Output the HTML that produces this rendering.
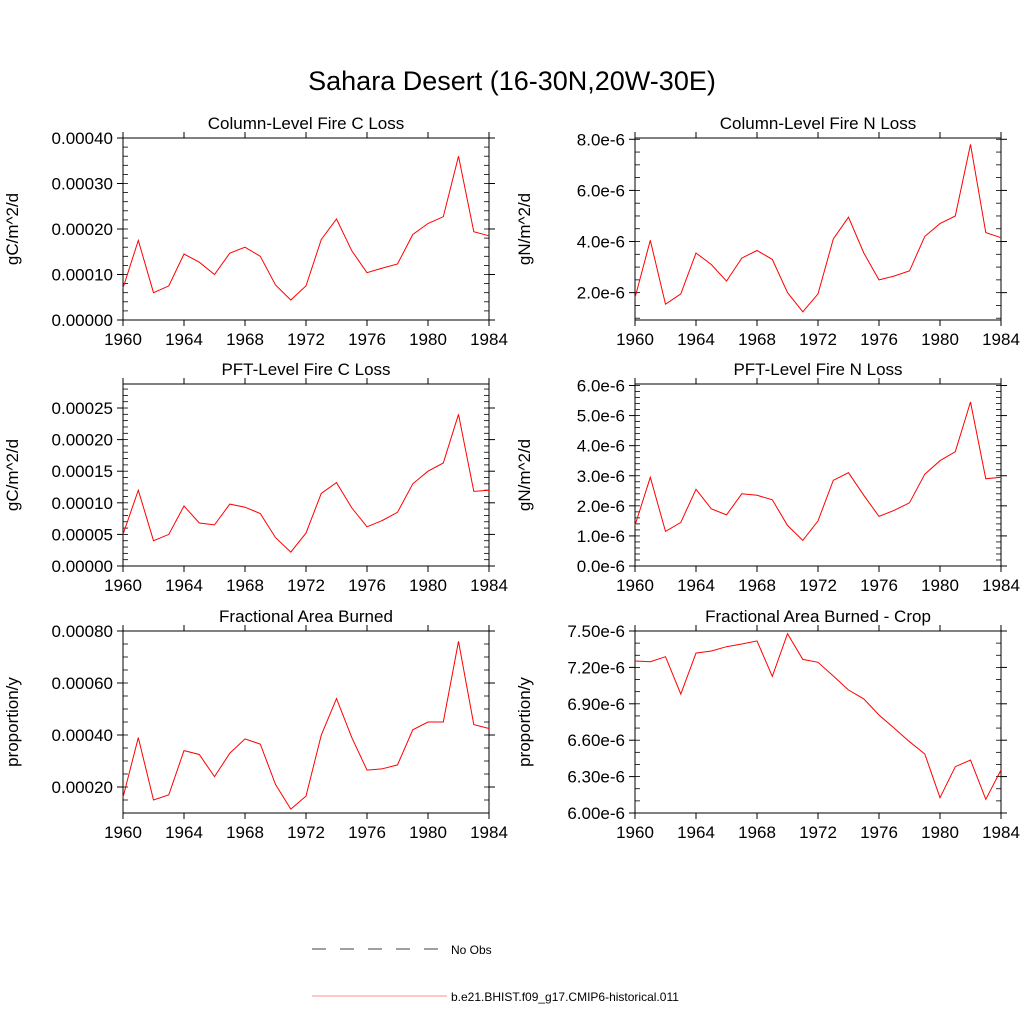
<!DOCTYPE html>
<html><head><meta charset="utf-8"><style>
body{margin:0;background:#fff;}
svg text{font-family:"Liberation Sans",sans-serif;fill:#000;}
</style></head><body>
<svg id="chart" width="1024" height="1024" viewBox="0 0 1024 1024" xmlns="http://www.w3.org/2000/svg">
<text x="512" y="90" font-size="27" text-anchor="middle">Sahara Desert (16-30N,20W-30E)</text>
<g id="panels"></g>
<g>
<line x1="312" y1="949" x2="447" y2="949" stroke="#000" stroke-width="0.8" stroke-dasharray="14,14"/>
<text x="451" y="954" font-size="12">No Obs</text>
<line x1="312" y1="996" x2="447" y2="996" stroke="#f66" stroke-width="0.8"/>
<text x="451" y="1001" font-size="12">b.e21.BHIST.f09_g17.CMIP6-historical.011</text>
</g>
</svg>
<script>
const years=[1960,1961,1962,1963,1964,1965,1966,1967,1968,1969,1970,1971,1972,1973,1974,1975,1976,1977,1978,1979,1980,1981,1982,1983,1984];
const xTicks=[1960,1964,1968,1972,1976,1980,1984];
const colC=[0.00007,0.000175,0.00006,0.000075,0.000145,0.000127,0.0001,0.000147,0.00016,0.00014,0.000077,0.000044,0.000075,0.000177,0.000222,0.000152,0.000104,0.000114,0.000123,0.000188,0.000212,0.000227,0.00036,0.000194,0.000185];
const colN=[1.8,4.05,1.55,1.95,3.55,3.1,2.45,3.35,3.65,3.3,2.0,1.25,1.95,4.1,4.95,3.55,2.5,2.65,2.85,4.2,4.7,5.0,7.8,4.35,4.15];
const pftC=[0.00005,0.00012,0.00004,0.00005,0.000095,0.000068,0.000065,0.000098,0.000093,0.000083,0.000045,0.000022,0.000052,0.000115,0.000132,0.000092,0.000062,0.000072,0.000085,0.00013,0.00015,0.000163,0.00024,0.000118,0.00012];
const pftN=[1.35,2.95,1.15,1.45,2.55,1.9,1.7,2.4,2.35,2.2,1.35,0.85,1.5,2.85,3.1,2.35,1.65,1.85,2.1,3.05,3.5,3.8,5.45,2.9,2.95];
const fab=[0.00016,0.00039,0.00015,0.00017,0.00034,0.000325,0.00024,0.00033,0.000385,0.000365,0.00021,0.000115,0.000165,0.0004,0.00054,0.00039,0.000265,0.00027,0.000285,0.00042,0.00045,0.00045,0.00076,0.00044,0.000425];
const fabCrop=[7.253,7.247,7.288,6.98,7.318,7.335,7.371,7.393,7.418,7.126,7.478,7.266,7.242,7.129,7.014,6.94,6.808,6.698,6.588,6.486,6.126,6.382,6.437,6.113,6.354];
const ticksColC=[0,0.0001,0.0002,0.0003,0.0004];
const labelsColC=["0.00000","0.00010","0.00020","0.00030","0.00040"];
const ticksColN=[2,4,6,8];
const labelsColN=["2.0e-6","4.0e-6","6.0e-6","8.0e-6"];
const ticksPftC=[0,0.00005,0.0001,0.00015,0.0002,0.00025];
const labelsPftC=["0.00000","0.00005","0.00010","0.00015","0.00020","0.00025"];
const ticksPftN=[0,1,2,3,4,5,6];
const labelsPftN=["0.0e-6","1.0e-6","2.0e-6","3.0e-6","4.0e-6","5.0e-6","6.0e-6"];
const ticksFab=[0.0002,0.0004,0.0006,0.0008];
const labelsFab=["0.00020","0.00040","0.00060","0.00080"];
const ticksCrop=[6.0,6.3,6.6,6.9,7.2,7.5];
const labelsCrop=["6.00e-6","6.30e-6","6.60e-6","6.90e-6","7.20e-6","7.50e-6"];

const panels=[
 {name:"column-fire-c-loss",title:"Column-Level Fire C Loss",yt:"gC/m^2/d",x:123,y:138,data:colC,ymin:0,ymax:0.0004,ticks:ticksColC,labels:labelsColC,minor:0.00002},
 {name:"column-fire-n-loss",title:"Column-Level Fire N Loss",yt:"gN/m^2/d",x:635,y:138,data:colN,ymin:0.93,ymax:8.05,ticks:ticksColN,labels:labelsColN,minor:0.5},
 {name:"pft-fire-c-loss",title:"PFT-Level Fire C Loss",yt:"gC/m^2/d",x:123,y:384,data:pftC,ymin:0,ymax:0.000288,ticks:ticksPftC,labels:labelsPftC,minor:0.00001},
 {name:"pft-fire-n-loss",title:"PFT-Level Fire N Loss",yt:"gN/m^2/d",x:635,y:384,data:pftN,ymin:0,ymax:6.05,ticks:ticksPftN,labels:labelsPftN,minor:0.2},
 {name:"fractional-area-burned",title:"Fractional Area Burned",yt:"proportion/y",x:123,y:631,data:fab,ymin:0.0001,ymax:0.0008,ticks:ticksFab,labels:labelsFab,minor:0.00005},
 {name:"fractional-area-burned-crop",title:"Fractional Area Burned - Crop",yt:"proportion/y",x:635,y:631,data:fabCrop,ymin:6.0,ymax:7.5,ticks:ticksCrop,labels:labelsCrop,minor:0.1}
];
const W=366,H=182,NS="http://www.w3.org/2000/svg";
const root=document.getElementById('panels');
function mk(tag,attrs,parent){const e=document.createElementNS(NS,tag);for(const k in attrs)e.setAttribute(k,attrs[k]);parent.appendChild(e);return e;}
panels.forEach(p=>{
 const g=mk('g',{},root);
 
 
 const xs=v=>p.x+(v-1960)/24*W;
 const ys=v=>p.y+H-(v-p.ymin)/(p.ymax-p.ymin)*H;
 const fr=mk('rect',{x:p.x,y:p.y,width:W,height:H,fill:'none',stroke:'#000','stroke-width':1},g);
 
 
 const t=mk('text',{x:p.x+W/2,y:p.y-9,'font-size':17,'text-anchor':'middle'},g);t.textContent=p.title;
 
 
 const yt=mk('text',{x:0,y:0,'font-size':17,'text-anchor':'middle',transform:`translate(${p.x-105},${p.y+H/2}) rotate(-90)`},g);yt.textContent=p.yt;
 
 
 xTicks.forEach(v=>{const X=xs(v);
  mk('line',{x1:X,y1:p.y+H,x2:X,y2:p.y+H+6,stroke:'#000'},g);
  mk('line',{x1:X,y1:p.y,x2:X,y2:p.y-6,stroke:'#000'},g);
  const l=mk('text',{x:X,y:p.y+H+25,'font-size':17,'text-anchor':'middle'},g);l.textContent=v;
  
  
 });
 for(let v=Math.ceil(p.ymin/p.minor-1e-6)*p.minor;v<=p.ymax+1e-12;v+=p.minor){const Y=ys(v);
  mk('line',{x1:p.x,y1:Y,x2:p.x+5,y2:Y,stroke:'#000','stroke-width':0.8},g);
  mk('line',{x1:p.x+W,y1:Y,x2:p.x+W-5,y2:Y,stroke:'#000','stroke-width':0.8},g);}
 p.ticks.forEach((v,i)=>{const Y=ys(v);
  mk('line',{x1:p.x,y1:Y,x2:p.x-6,y2:Y,stroke:'#000'},g);
  mk('line',{x1:p.x+W,y1:Y,x2:p.x+W+6,y2:Y,stroke:'#000'},g);
  const l=mk('text',{x:p.x-10,y:Y+6,'font-size':17,'text-anchor':'end'},g);l.textContent=p.labels[i];
  
  
 });
 const pts=p.data.map((v,i)=>xs(years[i]).toFixed(1)+','+ys(v).toFixed(1)).join(' ');
 const ln=mk('polyline',{points:pts,fill:'none',stroke:'#f00','stroke-width':1},g);
 
 
});
</script>
</body></html>
